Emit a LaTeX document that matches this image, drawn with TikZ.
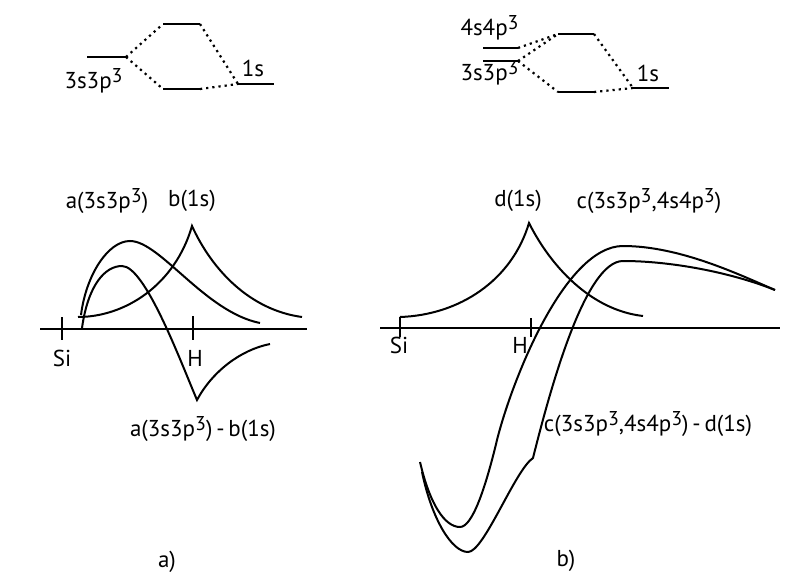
\documentclass[tikz,border=0pt]{standalone}
\usepackage{fontspec}
\setmainfont{PT Sans}
\newcommand{\cube}{\raisebox{0.55ex}{\fontsize{10}{10}\selectfont 3}}

\begin{document}
\begin{tikzpicture}[x=0.5pt,y=-0.5pt,
    orb/.style={line width=1.4pt},
    tie/.style={line width=1.1pt,dotted},
    wave/.style={line width=1pt},
    axisline/.style={line width=1pt},
    txt/.style={inner sep=0pt,font=\fontsize{11.5}{13}\selectfont}]
  \useasboundingbox (0,0) rectangle (785,572);

  % energy levels, a)
  \coordinate (aSl) at (87,57);   \coordinate (aSr) at (126,57);
  \coordinate (aUl) at (163,24);  \coordinate (aUr) at (200,24);
  \coordinate (aDl) at (163,89);  \coordinate (aDr) at (200,89);
  \coordinate (aHl) at (238,84);  \coordinate (aHr) at (274,84);
  \foreach \p in {aS,aU,aD,aH}
    \draw[orb] (\p l) -- (\p r);
  \draw[tie] (aSr) -- (aUl);
  \draw[tie] (aSr) -- (aDl);
  \draw[tie] (aUr) -- (aHl);
  \draw[tie] (aDr) -- (aHl);
  \node[txt,anchor=base east] (aSlab) at (123,89) {3s3p\cube};
  \node[txt,anchor=base] (aHlab) at (253,77) {1s};

  % energy levels, b)
  \coordinate (bFl) at (483,48);  \coordinate (bFr) at (518,48);
  \coordinate (bSl) at (483,61);  \coordinate (bSr) at (518,61);
  \coordinate (bUl) at (558,34);  \coordinate (bUr) at (594,34);
  \coordinate (bDl) at (558,92);  \coordinate (bDr) at (594,92);
  \coordinate (bHl) at (633,88);  \coordinate (bHr) at (669,88);
  \foreach \p in {bF,bS,bU,bD,bH}
    \draw[orb] (\p l) -- (\p r);
  \draw[tie] (bFr) -- (bUl);
  \draw[tie] (bSr) -- (bUl);
  \draw[tie] (bSr) -- (bDl);
  \draw[tie] (bUr) -- (bHl);
  \draw[tie] (bDr) -- (bHl);
  \node[txt,anchor=base east] (bFlab) at (519,36) {4s4p\cube};
  \node[txt,anchor=base east] (bSlab) at (519,81) {3s3p\cube};
  \node[txt,anchor=base] (bHlab) at (648,82) {1s};

  % wave functions, a)
  \draw[axisline] (40,329) -- (307,329);
  \draw[axisline] (62,317) -- (62,340);
  \draw[axisline] (193,316) -- (193,340);
  \node[txt] (aSi) at (62,358) {Si};
  \node[txt] (aH) at (195,358) {H};
  \draw[wave] (81,315) .. controls (86,275) and (108,241) .. (130,241)
    .. controls (160,241) and (205,312) .. (260,323);
  \draw[wave] (78,317) .. controls (125,317) and (175,285) .. (192,226)
    .. controls (212,270) and (250,310) .. (302,317);
  \draw[wave] (82,328) .. controls (88,285) and (105,266) .. (122,266)
    .. controls (145,266) and (180,360) .. (197,400)
    .. controls (212,372) and (240,350) .. (270,344);
  \node[txt] (aLab) at (107,201) {a(3s3p\cube)};
  \node[txt] (bLab) at (192,201) {b(1s)};
  \node[txt] (abLab) at (203,429) {a(3s3p\cube)\,-\,b(1s)};
  \node[txt] (aCap) at (167,562) {a)};

  % wave functions, b)
  \draw[axisline] (380,328) -- (780,328);
  \draw[axisline] (400,317) -- (400,337);
  \draw[axisline] (531,318) -- (531,337);
  \node[txt] (bSi) at (399,345) {Si};
  \node[txt] (bH) at (520,345) {H};
  \draw[wave] (400,317) .. controls (460,315) and (512,280) .. (529,223)
    .. controls (550,265) and (590,310) .. (643,316);
  \draw[wave] (420,462) .. controls (430,505) and (445,527) .. (460,527)
    .. controls (472,527) and (485,490) .. (497,440)
    .. controls (512,380) and (565,246) .. (623,246)
    .. controls (680,246) and (740,275) .. (775,290);
  \draw[wave] (422,472) .. controls (432,520) and (452,552) .. (468,552)
    .. controls (484,552) and (515,470) .. (533,458)
    .. controls (550,390) and (585,261) .. (623,261)
    .. controls (670,261) and (730,272) .. (775,290);
  \node[txt] (dLab) at (518,201) {d(1s)};
  \node[txt] (cLab) at (649,201) {c(3s3p\cube,4s4p\cube)};
  \node[txt] (cdLab) at (648,424) {c(3s3p\cube,4s4p\cube)\,-\,d(1s)};
  \node[txt] (bCap) at (566,561) {b)};
\end{tikzpicture}
\end{document}
